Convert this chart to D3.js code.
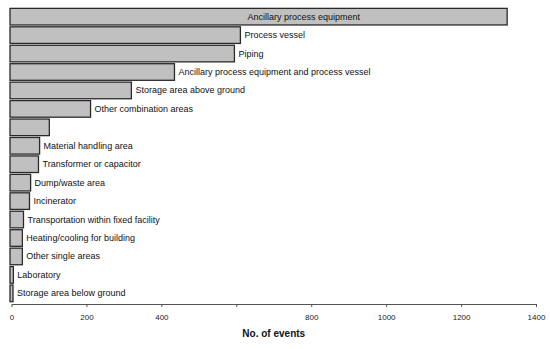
<!DOCTYPE html>
<html>
<head>
<meta charset="utf-8">
<script src="https://cdn.jsdelivr.net/npm/d3@7"></script>
<style>
  body { margin: 0; background: #fff; }
  svg { display: block; font-family: Arial, "Liberation Sans", sans-serif; }
</style>
</head>
<body>
<div id="chart"></div>
<script>
// categories, top to bottom
const categories = [
  "Ancillary process equipment",
  "Process vessel",
  "Piping",
  "Ancillary process equipment and process vessel",
  "Storage area above ground",
  "Other combination areas",
  "",
  "Material handling area",
  "Transformer or capacitor",
  "Dump/waste area",
  "Incinerator",
  "Transportation within fixed facility",
  "Heating/cooling for building",
  "Other single areas",
  "Laboratory",
  "Storage area below ground"
];
// number of events
const events = [1323, 611, 595, 435, 320, 211, 101, 75, 72, 51, 48, 32, 29, 29, 5, 4];
const tickValues = [0, 200, 400, 600, 800, 1000, 1200, 1400];
const tickLabels = ["0", "200", "400", "", "800", "1000", "1200", "1400"];

const width = 550;
const height = 349;
const margin = { top: 8, right: 14, bottom: 45, left: 11.5 };

const rows = categories.map((c, i) => ({ name: c, value: events[i], i: i }));

const svg = d3.select("#chart")
  .append("svg")
  .attr("width", width)
  .attr("height", height);

const x = d3.scaleLinear()
  .domain([0, 1400])
  .range([margin.left, width - margin.right]);

const y = d3.scaleBand()
  .domain(d3.range(categories.length))
  .range([margin.top, height - margin.bottom - 2])
  .paddingInner(0.1)
  .paddingOuter(0.02);

// bars
svg.append("g")
  .selectAll("rect")
  .data(rows)
  .enter()
  .append("rect")
  .attr("x", x(0) - 1.5)
  .attr("y", d => y(d.i))
  .attr("width", d => x(d.value) - x(0) + 1.5)
  .attr("height", y.bandwidth())
  .attr("fill", "#c0c0c0")
  .attr("stroke", "#2a2a2a")
  .attr("stroke-width", 1.3);

// labels next to bars (the longest one sits inside its bar)
const labelCap = x(630);
svg.append("g")
  .selectAll("text")
  .data(rows)
  .enter()
  .append("text")
  .attr("x", d => Math.min(x(d.value) + 4, labelCap))
  .attr("y", d => y(d.i) + y.bandwidth() / 2 + 3)
  .attr("font-size", 9)
  .attr("fill", "#111")
  .text(d => d.name);

// x axis
const axisY = height - margin.bottom;
const xAxis = svg.append("g")
  .attr("transform", `translate(0,${axisY})`)
  .call(d3.axisBottom(x)
    .tickValues(tickValues)
    .tickFormat((d, i) => tickLabels[i])
    .tickSizeInner(3)
    .tickSizeOuter(0)
    .tickPadding(7));

xAxis.select(".domain").attr("stroke", "#555").attr("stroke-width", 1.2);
xAxis.selectAll(".tick line").attr("stroke", "#555");
xAxis.selectAll(".tick text")
  .attr("font-size", 8)
  .attr("font-family", "Arial, 'Liberation Sans', sans-serif")
  .attr("fill", "#222");

// axis title
svg.append("text")
  .attr("x", (x(0) + x(1400)) / 2)
  .attr("y", axisY + 33)
  .attr("text-anchor", "middle")
  .attr("font-size", 10)
  .attr("font-weight", "bold")
  .attr("fill", "#111")
  .text("No. of events");
</script>
</body>
</html>
